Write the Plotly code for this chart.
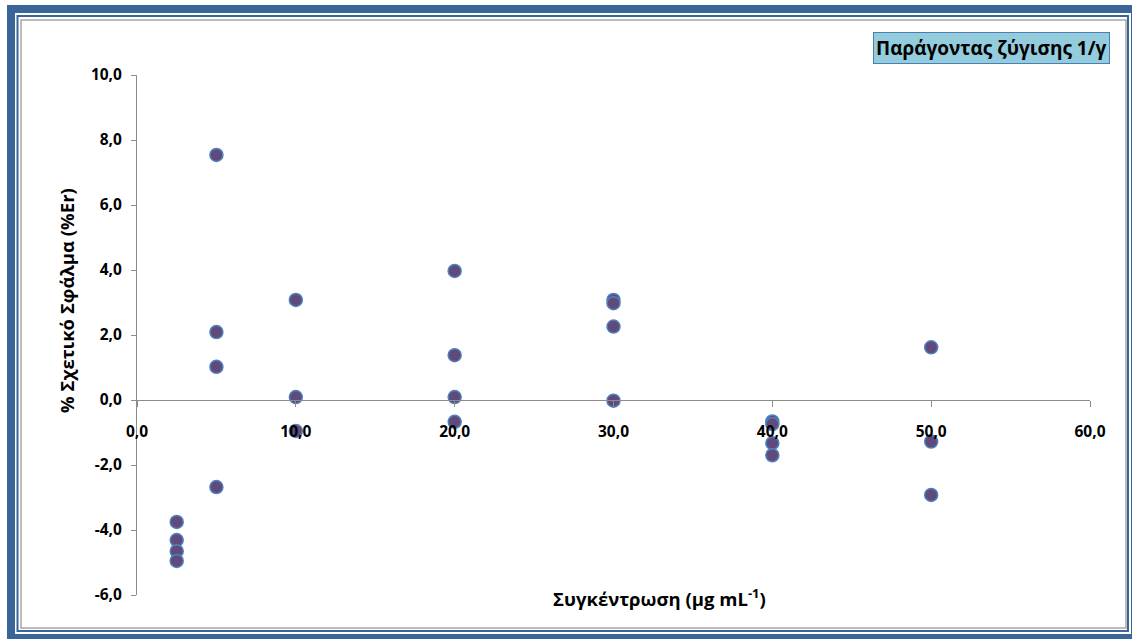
import plotly.graph_objects as go

# Measured relative error (%Er) at each calibration level (μg mL-1)
concentration = [2.5, 2.5, 2.5, 2.5,
                 5, 5, 5, 5,
                 10, 10, 10,
                 20, 20, 20, 20,
                 30, 30, 30, 30,
                 40, 40, 40, 40,
                 50, 50, 50]
rel_error = [-3.75, -4.31, -4.65, -4.95,
             7.54, 2.09, 1.02, -2.68,
             3.08, 0.09, -0.95,
             3.97, 1.38, 0.09, -0.67,
             3.08, 2.98, 2.26, -0.02,
             -0.66, -0.74, -1.33, -1.70,
             1.62, -1.28, -2.92]

x_tickvals = [0, 10, 20, 30, 40, 50, 60]
x_ticktext = ["0,0", "10,0", "20,0", "30,0", "40,0", "50,0", "60,0"]
y_tickvals = [-6, -4, -2, 0, 2, 4, 6, 8, 10]
y_ticktext = ["-6,0", "-4,0", "-2,0", "0,0", "2,0", "4,0", "6,0", "8,0", "10,0"]

W, H = 1132, 639
ML, MR, MT, MB = 137, 42, 75, 44
PW, PH = W - ML - MR, H - MT - MB


def px(xp):
    return (xp - ML) / PW


def py(yp):
    return (H - MB - yp) / PH


FONT = "Open Sans, Noto Sans, DejaVu Sans, sans-serif"
AXIS_GREY = "#8C8C8C"

fig = go.Figure()
fig.add_trace(go.Scatter(
    x=concentration, y=rel_error, mode="markers",
    marker=dict(size=13, color="#604A7B", line=dict(color="#4F81BD", width=1.5)),
    showlegend=False, hoverinfo="x+y",
))

fig.update_layout(
    width=W, height=H,
    margin=dict(l=ML, r=MR, t=MT, b=MB, pad=0),
    paper_bgcolor="white", plot_bgcolor="white",
    showlegend=False,
    xaxis=dict(
        range=[0, 60], tickvals=x_tickvals, ticktext=x_ticktext,
        showgrid=False, zeroline=False,
        showline=True, linecolor=AXIS_GREY, linewidth=1,
        ticks="outside", ticklen=6, tickcolor=AXIS_GREY, tickwidth=1,
        anchor="free", position=0.375, ticklabelstandoff=11,
        tickfont=dict(family=FONT, size=15.5, color="black", weight="bold"),
    ),
    yaxis=dict(
        range=[-6, 10], tickvals=y_tickvals, ticktext=y_ticktext,
        showgrid=False, zeroline=False,
        showline=True, linecolor=AXIS_GREY, linewidth=1,
        ticks="outside", ticklen=5, tickcolor=AXIS_GREY, tickwidth=1,
        ticklabelstandoff=6,
        tickfont=dict(family=FONT, size=15.5, color="black", weight="bold"),
    ),
)

# Axis titles
fig.add_annotation(
    text="% Σχετικό Σφάλμα (%Er)", textangle=-90,
    xref="paper", yref="paper", x=px(66), y=py(301),
    showarrow=False, xanchor="center", yanchor="middle",
    font=dict(family=FONT, size=18.5, color="black", weight="bold"),
)
fig.add_annotation(
    text="Συγκέντρωση (μg mL<sup>-1</sup>)",
    xref="paper", yref="paper", x=px(659), y=py(597),
    showarrow=False, xanchor="center", yanchor="middle",
    font=dict(family=FONT, size=18.5, color="black", weight="bold"),
)

# Weighting-factor label box
fig.add_annotation(
    text="Παράγοντας ζύγισης 1/γ",
    xref="paper", yref="paper", x=px(991), y=py(48.5),
    showarrow=False, xanchor="center", yanchor="middle",
    bgcolor="#93CDDD", bordercolor="#4A7EB5", borderwidth=1, borderpad=2,
    font=dict(family=FONT, size=19, color="black", weight="bold"),
)

# Decorative frame around the chart
frame = [
    (11, 9, 1135, 638, "#3A6598", 8),
    (17.5, 16, 1128, 631, "#3A6598", 2),
    (21, 20, 1126, 628, "#A6A6A6", 1.5),
]
for x0, y0, x1, y1, col, lw in frame:
    fig.add_shape(
        type="rect", xref="paper", yref="paper",
        x0=px(x0), x1=px(x1), y0=py(y1), y1=py(y0),
        line=dict(color=col, width=lw), fillcolor="rgba(0,0,0,0)",
        layer="above",
    )

fig.write_html("out.html")
